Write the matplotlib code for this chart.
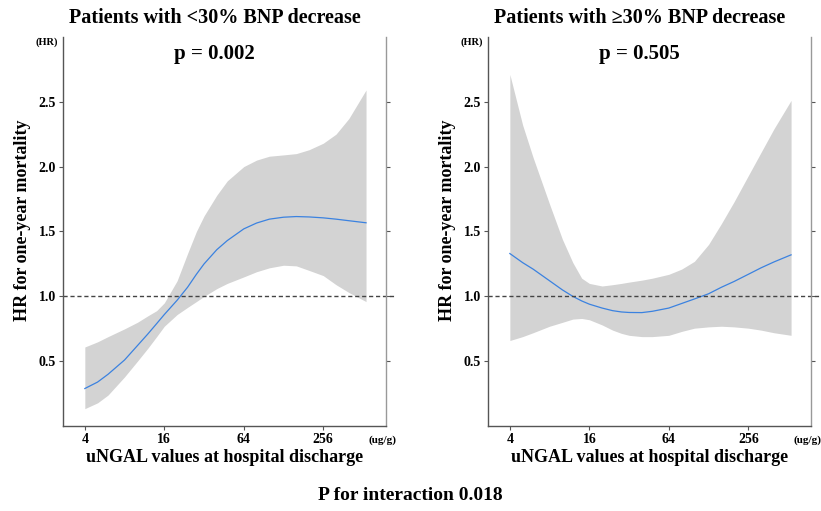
import matplotlib.pyplot as plt
import numpy as np

plt.rcParams['font.family'] = 'Liberation Serif'
plt.rcParams['font.weight'] = 'bold'

# uNGAL (ug/g)
ungal = [4, 5, 6, 8, 10, 12, 14, 16, 20, 24, 28, 32, 40, 48, 64, 80, 100, 128,
         160, 200, 256, 320, 400, 540]

# <30% BNP decrease
hr_low = [0.29, 0.34, 0.40, 0.51, 0.62, 0.71, 0.79, 0.86, 0.97, 1.07, 1.17, 1.25,
          1.36, 1.43, 1.52, 1.565, 1.595, 1.61, 1.615, 1.612, 1.605, 1.595, 1.583, 1.567]
up_low = [0.61, 0.65, 0.69, 0.75, 0.80, 0.85, 0.89, 0.95, 1.12, 1.33, 1.50, 1.62,
          1.78, 1.89, 2.00, 2.05, 2.08, 2.09, 2.10, 2.13, 2.18, 2.25, 2.37, 2.59]
lo_low = [0.135, 0.18, 0.24, 0.38, 0.50, 0.60, 0.69, 0.77, 0.86, 0.915, 0.96, 1.00,
          1.06, 1.10, 1.15, 1.19, 1.22, 1.24, 1.235, 1.20, 1.16, 1.09, 1.03, 0.96]

# >=30% BNP decrease
hr_high = [1.33, 1.26, 1.21, 1.12, 1.05, 1.00, 0.965, 0.94, 0.91, 0.89, 0.88, 0.876,
           0.875, 0.885, 0.91, 0.945, 0.98, 1.02, 1.07, 1.115, 1.17, 1.22, 1.265, 1.32]
up_high = [2.71, 2.32, 2.07, 1.71, 1.44, 1.26, 1.14, 1.10, 1.08, 1.09, 1.10, 1.11,
           1.125, 1.14, 1.17, 1.21, 1.27, 1.40, 1.56, 1.73, 1.93, 2.11, 2.29, 2.51]
lo_high = [0.66, 0.69, 0.72, 0.77, 0.80, 0.825, 0.83, 0.82, 0.78, 0.74, 0.715, 0.70,
           0.69, 0.69, 0.70, 0.73, 0.755, 0.765, 0.77, 0.765, 0.755, 0.74, 0.72, 0.70]

xticks = [4, 16, 64, 256]
yticks = [0.5, 1.0, 1.5, 2.0, 2.5]

fig = plt.figure(figsize=(8.21, 5.11), dpi=100)

panels = [
    ([0.0767, 0.166, 0.3935, 0.762], hr_low, up_low, lo_low,
     u'Patients with <30% BNP decrease', 'p = 0.002'),
    ([0.5944, 0.166, 0.3935, 0.762], hr_high, up_high, lo_high,
     u'Patients with \u226530% BNP decrease', 'p = 0.505'),
]

for rect, hr, up, lo, title, pval in panels:
    ax = fig.add_axes(rect)
    ax.set_xscale('log', base=2)
    ax.fill_between(ungal, lo, up, color='#d3d3d3', lw=0)
    ax.plot(ungal, hr, c='#3b82e0', lw=0.9)
    ax.axhline(1.0, xmin=0, xmax=1.03, ls=(0, (3, 2)), c='#444444', lw=1.0, clip_on=False)

    ax.set_xlim(2 ** 1.45, 2 ** 9.58)
    ax.set_ylim(0, 3.0)
    ax.set_xticks(xticks)
    ax.set_xticklabels([str(t) for t in xticks], fontsize=10, fontweight='bold')
    ax.minorticks_off()
    ax.set_yticks(yticks)
    ax.set_yticklabels(['%.1f' % t for t in yticks], fontsize=10, fontweight='bold')
    ax.tick_params(axis='both', length=3, width=0.8, color='#555555', pad=2)
    ax.tick_params(axis='y', right=True)

    ax.spines['top'].set_visible(False)
    for s in ['left', 'bottom']:
        ax.spines[s].set_color('#555555')
        ax.spines[s].set_linewidth(1.0)
    ax.spines['right'].set_color('#999999')
    ax.spines['right'].set_linewidth(1.0)

    ax.set_xlabel('uNGAL values at hospital discharge', fontsize=13, fontweight='bold', labelpad=2)
    ax.set_ylabel('HR for one-year mortality', fontsize=13, fontweight='bold')
    ax.yaxis.set_label_coords(-0.099, 0.53)
    ax.set_title(title, fontsize=14.5, fontweight='bold', pad=10, x=0.47)
    ax.text(0.47, 0.955, pval, transform=ax.transAxes, ha='center', va='center',
            fontsize=15, fontweight='bold')
    ax.text(-0.05, 0.985, '(HR)', transform=ax.transAxes, ha='center', va='center',
            fontsize=7.5, fontweight='bold')
    ax.text(0.99, -0.035, '(ug/g)', transform=ax.transAxes, ha='center', va='center',
            fontsize=8, fontweight='bold')

fig.text(0.5, 0.03, 'P for interaction 0.018', ha='center', va='center',
         fontsize=14, fontweight='bold')

plt.savefig('out.png', dpi=100)
